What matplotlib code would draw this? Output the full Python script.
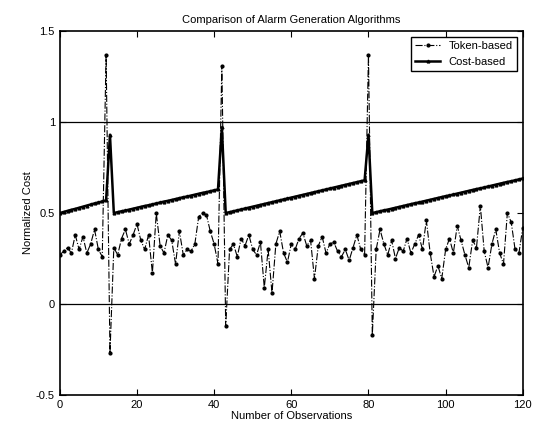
# Comparacao dos algoritmos de geracao de alarme
import numpy as np
import matplotlib.pyplot as plt

plt.rcParams['font.family'] = ['Liberation Sans', 'DejaVu Sans']

obs = np.arange(0, 121)

token = [0.27, 0.29, 0.31, 0.28, 0.38, 0.30, 0.37, 0.28, 0.33, 0.41, 0.30, 0.26,
         1.37, -0.27,
         0.31, 0.27, 0.36, 0.41, 0.33, 0.38, 0.44, 0.35, 0.30, 0.38,
         0.17, 0.50, 0.32, 0.28, 0.38, 0.35, 0.22, 0.40, 0.27, 0.30,
         0.29, 0.33, 0.48, 0.50, 0.49, 0.40, 0.33, 0.22,
         1.31, -0.12,
         0.30, 0.33, 0.26, 0.36, 0.32, 0.38, 0.30, 0.27, 0.34, 0.09,
         0.30, 0.06, 0.33, 0.40, 0.28, 0.23, 0.33, 0.30, 0.36, 0.39,
         0.32, 0.35, 0.14, 0.32, 0.37, 0.28, 0.33, 0.34, 0.29, 0.26,
         0.30, 0.24, 0.31, 0.38, 0.30, 0.27,
         1.37, -0.17,
         0.30, 0.41, 0.33, 0.27, 0.35, 0.25, 0.31, 0.29, 0.36, 0.28,
         0.33, 0.38, 0.30, 0.46, 0.28, 0.15, 0.21, 0.14, 0.30, 0.36,
         0.28, 0.43, 0.35, 0.27, 0.20, 0.35, 0.31, 0.54, 0.29, 0.20,
         0.33, 0.41, 0.28, 0.22, 0.50, 0.45, 0.30, 0.28, 0.42]

cost = [0.500, 0.506, 0.512, 0.518, 0.523, 0.529, 0.535, 0.541, 0.547, 0.553, 0.558, 0.564, 0.570,
        0.93,
        0.500, 0.505, 0.510, 0.514, 0.519, 0.524, 0.529, 0.534, 0.539, 0.543, 0.548, 0.553, 0.558, 0.563,
        0.567, 0.572, 0.577, 0.582, 0.587, 0.591, 0.596, 0.601, 0.606, 0.611, 0.615, 0.620, 0.625, 0.630,
        0.97,
        0.500, 0.505, 0.510, 0.515, 0.520, 0.525, 0.530, 0.535, 0.540, 0.545, 0.550, 0.555, 0.560,
        0.565, 0.570, 0.575, 0.580, 0.585, 0.590, 0.595, 0.600, 0.605, 0.610, 0.615, 0.620, 0.625,
        0.630, 0.635, 0.640, 0.645, 0.650, 0.655, 0.660, 0.665, 0.670, 0.675, 0.680,
        0.93,
        0.500, 0.505, 0.510, 0.515, 0.519, 0.524, 0.529, 0.534, 0.539, 0.544, 0.549, 0.554, 0.558,
        0.563, 0.568, 0.573, 0.578, 0.583, 0.588, 0.593, 0.597, 0.602, 0.607, 0.612, 0.617, 0.622,
        0.627, 0.632, 0.636, 0.641, 0.646, 0.651, 0.656, 0.661, 0.666, 0.671, 0.675, 0.680, 0.685, 0.690]

limiares = [0, 1]

fig = plt.figure(figsize=(5.34, 4.37), dpi=100)
ax = fig.add_axes([0.112, 0.096, 0.867, 0.833])

for lim in limiares:
    ax.axhline(lim, color='k', lw=0.9)

ax.plot(obs, token, '-.', color='k', lw=0.8, marker='.', ms=4, label='Token-based')
ax.plot(obs, cost, '-', color='k', lw=1.8, marker='^', ms=2, label='Cost-based')

ax.set_xlim(0, 120)
ax.set_ylim(-0.5, 1.5)
ax.set_xticks(np.arange(0, 121, 20))
ax.set_yticks([-0.5, 0, 0.5, 1, 1.5])
ax.set_yticklabels(['-0.5', '0', '0.5', '1', '1.5'])
ax.tick_params(direction='in', labelsize=8, length=4, top=True, right=True)
for s in ax.spines.values():
    s.set_linewidth(1.2)

ax.set_title('Comparison of Alarm Generation Algorithms', fontsize=8)
ax.set_xlabel('Number of Observations', fontsize=8, labelpad=1)
ax.set_ylabel('Normalized Cost', fontsize=8, labelpad=2)

leg = ax.legend(loc='upper right', fontsize=8, fancybox=False, edgecolor='k',
                framealpha=1, handlelength=2.2, borderaxespad=0.5)
leg.get_frame().set_linewidth(1.0)

plt.savefig('out.png', dpi=100)
plt.close('all')
